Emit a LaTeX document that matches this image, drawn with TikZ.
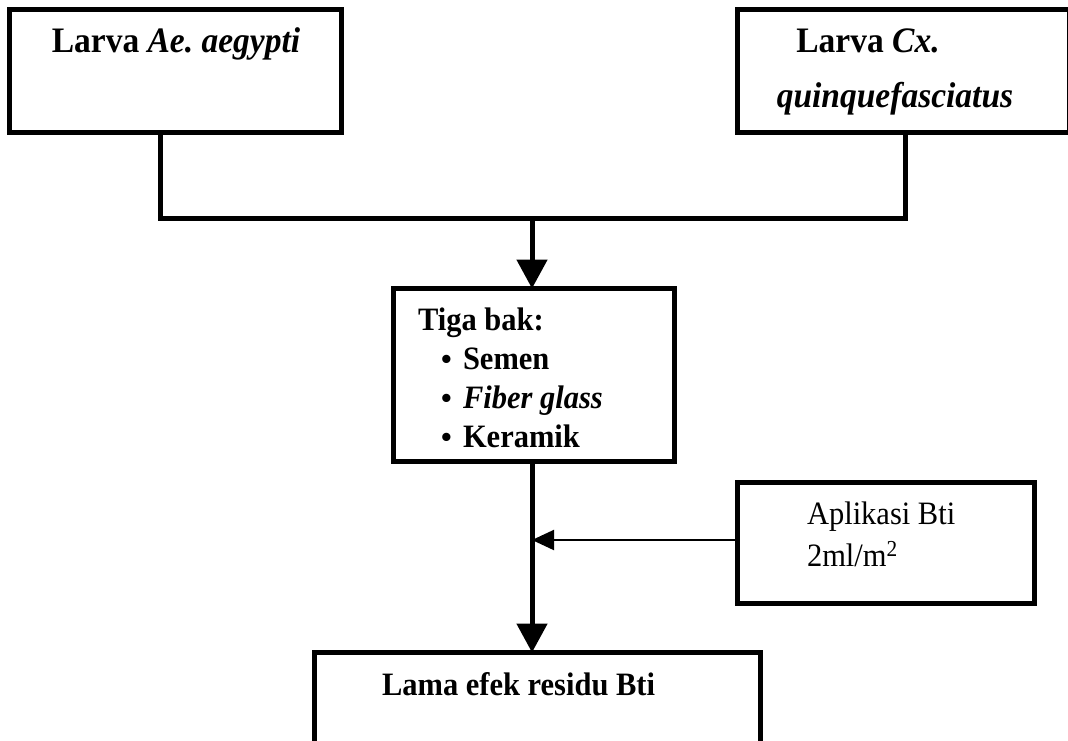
\documentclass[tikz,border=0pt]{standalone}
\usepackage{fontspec}
\usepackage{graphicx}
\setmainfont{Liberation Serif}
\usetikzlibrary{arrows.meta}
\newcommand{\tallbox}[1]{\scalebox{1}[1.07]{#1}}
\frenchspacing
\begin{document}
\begin{tikzpicture}[x=1pt,y=-1pt,
  box/.style={draw=black, line width=5pt, inner sep=0pt, outer sep=0pt, line join=miter},
  bigtxt/.style={inner sep=0pt, outer sep=0pt, font=\fontsize{33.5}{40}\selectfont\bfseries},
  btxt/.style={inner sep=0pt, outer sep=0pt, font=\fontsize{30.5}{36}\selectfont\bfseries},
  rtxt/.style={inner sep=0pt, outer sep=0pt, font=\fontsize{30.5}{36}\selectfont},
  conn/.style={line width=5pt, line join=miter},
  bigarrow/.style={conn, -{Triangle[length=29pt,width=30pt]}},
  smallarrow/.style={line width=2pt, -{Triangle[length=22pt,width=20pt]}}]
\useasboundingbox (0,0) rectangle (1068,740);
\fill[white] (0,0) rectangle (1068,740);
\clip (0,0) rectangle (1068,740);

% boxes
\node[box, minimum width=332pt, minimum height=123pt] (A) at (175.5,71) {};
\node[box, minimum width=332pt, minimum height=123pt] (B) at (903.5,71) {};
\node[box, minimum width=281pt, minimum height=173pt] (C) at (534,375) {};
\node[box, minimum width=297pt, minimum height=121pt] (D) at (886,543) {};
\node[box, minimum width=446pt, minimum height=107.5pt] (E) at (537.5,706.25) {};

% texts
\node[bigtxt, anchor=base] (tA) at (176,52) {\tallbox{Larva \textit{Ae. aegypti}}};
\node[bigtxt, anchor=base] (tB1) at (868,52) {\tallbox{Larva \textit{Cx.}}};
\node[bigtxt, anchor=base] (tB2) at (895,107) {\tallbox{\textit{quinquefasciatus}}};

\node[btxt, anchor=base west] (tC) at (418,330) {\tallbox{Tiga bak:}};
\node[btxt, anchor=base] (b1) at (446.5,369) {\textbullet};
\node[btxt, anchor=base] (b2) at (446.5,408) {\textbullet};
\node[btxt, anchor=base] (b3) at (446.5,447) {\textbullet};
\node[btxt, anchor=base west] (c1) at (463,369) {\tallbox{Semen}};
\node[btxt, anchor=base west] (c2) at (463,408) {\tallbox{\textit{Fiber glass}}};
\node[btxt, anchor=base west] (c3) at (463,447) {\tallbox{Keramik}};

\node[rtxt, anchor=base west] (tD1) at (807,524) {\tallbox{Aplikasi Bti}};
\node[rtxt, anchor=base west] (tD2) at (807,566) {\tallbox{2ml/m\textsuperscript{2}}};

\node[btxt, anchor=base west] (tE) at (382,695) {\tallbox{Lama efek residu Bti}};

% connectors
\coordinate (jl) at (160,218);
\coordinate (jr) at (905,218);
\coordinate (j) at (532,218);
\coordinate (m) at (532,540);
\draw[conn] (A.south -| jl) -- (jl) -- (jr) -- (B.south -| jr);
\draw[bigarrow] (j) -- (C.north -| j);
\draw[bigarrow] (C.south -| j) -- (E.north -| j);
\draw[smallarrow] (D.west |- m) -- (m);
\end{tikzpicture}
\end{document}
